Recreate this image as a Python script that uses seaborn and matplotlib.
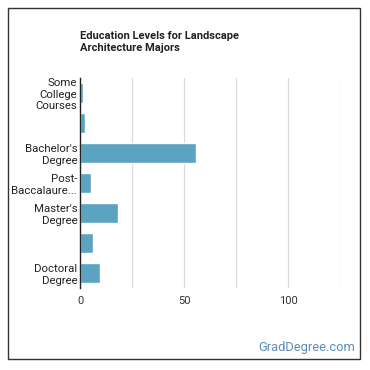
import matplotlib
matplotlib.use("Agg")

import numpy as np
import pandas as pd
import matplotlib.pyplot as plt
import seaborn as sns
from matplotlib.patches import Rectangle

categories = ["Some\nCollege\nCourses", "", "Bachelor's\nDegree", "Post-\nBaccalaure...",
              "Master's\nDegree", " ", "Doctoral\nDegree"]
values = [1.3, 2.6, 55.8, 5.4, 18.4, 6.4, 9.8]

sns.set_theme(style="white")
plt.rcParams["font.family"] = ["Roboto", "DejaVu Sans"]

df = pd.DataFrame({"level": categories, "pct": values})

fig = plt.figure(figsize=(3.7, 3.7), dpi=100)
ax = fig.add_axes([80 / 370, 1 - 288 / 370, 260 / 370, 210 / 370])

sns.barplot(data=df, y="level", x="pct", orient="h", color="#5BA3C0",
            saturation=1, width=0.65, ax=ax)

ax.set_xlim(0, 125)
ax.set_xticks([0, 50, 100])
ax.set_xticks([25, 75, 125], minor=True)
ax.grid(True, axis="x", which="both", color="#d9d9d9", linewidth=0.8)
ax.set_axisbelow(True)
ax.set_xlabel("")
ax.set_ylabel("")
ax.tick_params(axis="x", which="both", length=0, labelsize=8, colors="#333333", pad=6)
ax.tick_params(axis="y", length=0, labelsize=8.2, colors="#222222", pad=2)
for lbl in ax.get_yticklabels():
    lbl.set_linespacing(1.2)
for side in ["top", "right", "bottom"]:
    ax.spines[side].set_visible(False)
ax.spines["left"].set_color("#222222")
ax.spines["left"].set_linewidth(1.0)

fig.text(80 / 370, 1 - 42 / 370, "Education Levels for Landscape\nArchitecture Majors",
         fontsize=8, fontweight="bold", color="#222222", va="center", ha="left",
         linespacing=1.35)
fig.text(355 / 370, 1 - 348 / 370, "GradDegree.com", fontsize=9.3, color="#5B8DB8",
         ha="right", va="center")

fig.patches.append(Rectangle((8 / 370, 1 - 359 / 370), 352 / 370, 351 / 370,
                             transform=fig.transFigure, fill=False,
                             edgecolor="#333333", linewidth=1.0))

fig.savefig("out.png", dpi=100)
